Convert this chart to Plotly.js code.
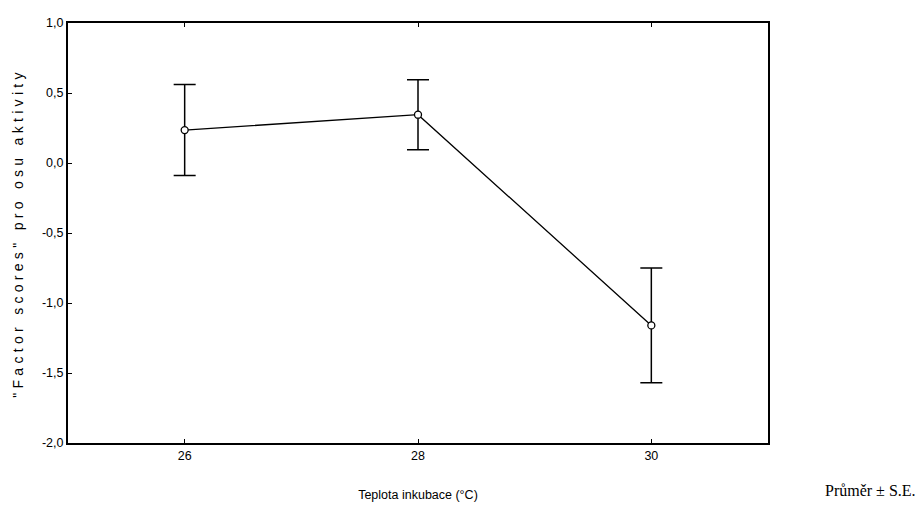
<!DOCTYPE html>
<html>
<head>
<meta charset="utf-8">
<script src="https://cdn.plot.ly/plotly-3.0.1.min.js"></script>
<style>
html,body{margin:0;padding:0;background:#fff;}
#chart{width:919px;height:518px;}
.ytitle{letter-spacing:4.3px;}
</style>
</head>
<body>
<div id="chart"></div>
<script>
var temperatures = [26, 28, 30];
var meanScores = [0.235, 0.345, -1.16];
var standardErrors = [0.325, 0.25, 0.41];
var xTickLabels = ['26', '28', '30'];
var yTickValues = [-2.0, -1.5, -1.0, -0.5, 0.0, 0.5, 1.0];
var yTickLabels = ['-2,0', '-1,5', '-1,0', '-0,5', '0,0', '0,5', '1,0'];

var trace = {
  x: temperatures,
  y: meanScores,
  type: 'scatter',
  mode: 'lines+markers',
  line: {color: '#000', width: 1.3},
  marker: {symbol: 'circle', size: 7, color: '#fff', line: {color: '#000', width: 1.3}},
  error_y: {type: 'data', array: standardErrors, visible: true, color: '#000', thickness: 1.5, width: 11},
  cliponaxis: false,
  hoverinfo: 'none'
};

var layout = {
  width: 919, height: 518,
  margin: {l: 68, r: 151, t: 23, b: 75},
  paper_bgcolor: '#fff', plot_bgcolor: '#fff',
  showlegend: false,
  font: {family: 'Arial, Liberation Sans, sans-serif', color: '#000', size: 12},
  xaxis: {
    range: [25, 31],
    tickvals: temperatures,
    ticktext: xTickLabels,
    ticks: 'inside', ticklen: 4, tickwidth: 1, tickcolor: '#000',
    showgrid: false, zeroline: false,
    showline: true, linecolor: '#000', linewidth: 2, mirror: 'ticks',
    tickfont: {size: 12.5},
    title: {text: 'Teplota inkubace (°C)', font: {size: 12.5}, standoff: 28}
  },
  yaxis: {
    range: [-2.0, 1.0],
    tickvals: yTickValues,
    ticktext: yTickLabels,
    ticks: 'inside', ticklen: 4, tickwidth: 1, tickcolor: '#000',
    showgrid: false, zeroline: false,
    showline: true, linecolor: '#000', linewidth: 2, mirror: true,
    tickfont: {size: 12.5},
    title: {text: '"Factor scores" pro osu aktivity', font: {size: 14}, standoff: 15}
  },
  annotations: [{
    text: 'Průměr ± S.E.',
    xref: 'paper', yref: 'paper',
    x: 1.214, y: -0.112,
    xanchor: 'right', yanchor: 'middle',
    showarrow: false,
    font: {family: 'Liberation Serif, Times New Roman, serif', size: 16, color: '#000'}
  }]
};

Plotly.newPlot('chart', [trace], layout, {staticPlot: true, displayModeBar: false});
</script>
</body>
</html>
